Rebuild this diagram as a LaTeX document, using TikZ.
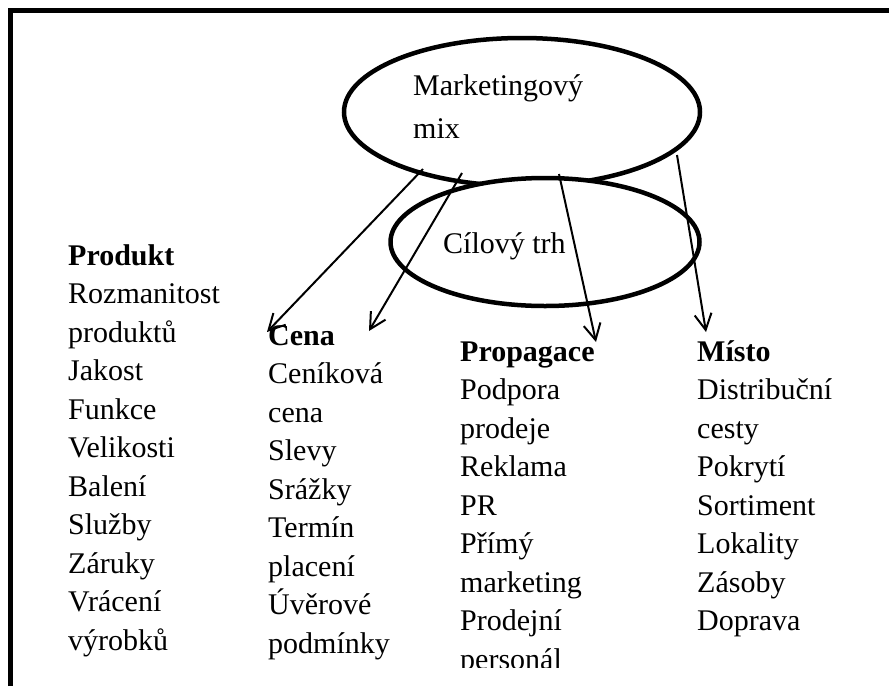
\documentclass[tikz,border=0pt]{standalone}
\usepackage{fontspec}
\setmainfont{Liberation Serif}
\usetikzlibrary{arrows.meta,shapes.geometric}
\begin{document}
\begin{tikzpicture}[x=1pt,y=-1pt,
  txt/.style={anchor=base west,inner sep=0pt,font=\fontsize{30}{36}\selectfont},
  hd/.style={anchor=base west,inner sep=0pt,font=\fontsize{30}{36}\selectfont\bfseries},
  oval/.style={ellipse,draw,line width=4.5pt,inner sep=0pt},
  arr/.style={-{Straight Barb[length=16pt,width=17pt,line width=2pt]},line width=2pt}]
\useasboundingbox (0,0) rectangle (889,686);
\fill[white] (0,0) rectangle (889,686);
\draw[line width=5.5pt] (10.5,686) -- (10.5,10.5) -- (889,10.5);
% ovals
\node[oval,minimum width=356pt,minimum height=148pt] (mix) at (522,112) {};
\node[oval,fill=white,minimum width=309pt,minimum height=128pt] (trh) at (545,242) {};
\node[txt] (mixt1) at (413,95) {Marketingový};
\node[txt] (mixt2) at (413,138) {mix};
\node[txt] (trht) at (443,253) {Cílový trh};
% Produkt
\node[hd] (prodh) at (68,265) {Produkt};
\foreach \t [count=\i] in {Rozmanitost,produktů,Jakost,Funkce,Velikosti,Balení,Služby,Záruky,Vrácení,výrobků}
  \node[txt] (prod\i) at (68,{265+38.5*\i}) {\t};
% Cena
\node[hd] (cenah) at (268,345) {Cena};
\foreach \t [count=\i] in {Ceníková,cena,Slevy,Srážky,Termín,placení,Úvěrové,podmínky}
  \node[txt] (cena\i) at (268,{345+38.5*\i}) {\t};
% Propagace
\begin{scope}
\clip (440,300) rectangle (690,667);
\node[hd] (proph) at (460,361) {Propagace};
\foreach \t [count=\i] in {Podpora,prodeje,Reklama,PR,Přímý,marketing,Prodejní,personál}
  \node[txt] (prop\i) at (460,{361+38.5*\i}) {\t};
\end{scope}
% Misto
\node[hd] (misth) at (697,361) {Místo};
\foreach \t [count=\i] in {Distribuční,cesty,Pokrytí,Sortiment,Lokality,Zásoby,Doprava}
  \node[txt] (mist\i) at (697,{361+38.5*\i}) {\t};
% arrows
\coordinate (a1s) at (423,169); \coordinate (a1e) at (267,332);
\coordinate (a2s) at (462,173); \coordinate (a2e) at (369,331);
\coordinate (a3s) at (559,174); \coordinate (a3e) at (596,342);
\coordinate (a4s) at (677,155); \coordinate (a4e) at (706,332);
\draw[arr] (a1s) -- (a1e);
\draw[arr] (a2s) -- (a2e);
\draw[arr] (a3s) -- (a3e);
\draw[arr] (a4s) -- (a4e);
\end{tikzpicture}
\end{document}
